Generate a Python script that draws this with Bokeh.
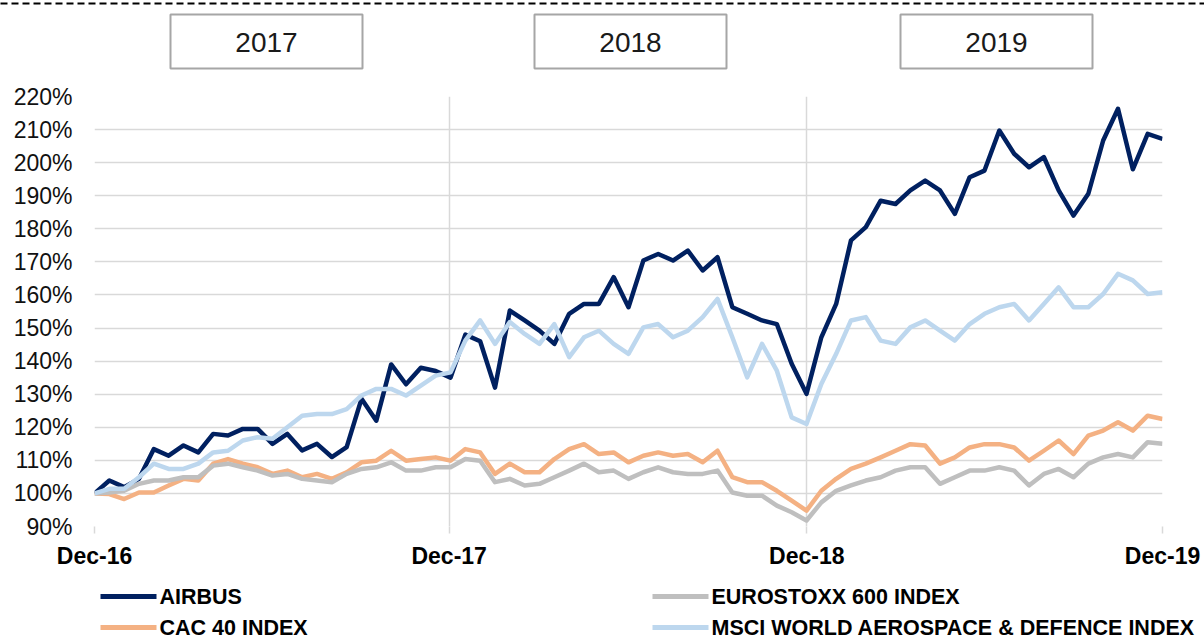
import pandas as pd
from bokeh.plotting import figure
from bokeh.models import (Range1d, FixedTicker, DatetimeTickFormatter, PrintfTickFormatter)
from bokeh.embed import file_html
from bokeh.resources import INLINE
from bokeh.core.properties import value

# ---------------- data ----------------
years = ["2017", "2018", "2019"]
tick_dates = ["2016-12-30", "2017-12-29", "2018-12-31", "2019-12-31"]
y_ticks = [90, 100, 110, 120, 130, 140, 150, 160, 170, 180, 190, 200, 210, 220]
series_names = ["AIRBUS", "CAC 40 INDEX", "EUROSTOXX 600 INDEX",
                "MSCI WORLD AEROSPACE & DEFENCE INDEX"]

airbus = [100, 103.9, 101.9, 104.4, 113.4, 111.4, 114.5, 112.4, 118, 117.5, 119.5, 119.5,
          115, 118, 113, 115, 111, 114, 128.6, 122, 139, 133, 138, 137, 135,
          148, 146, 132, 155.3, 152.3, 149.2, 145.2, 154.3, 157.3, 157.3, 165.4, 156.3,
          170.4, 172.4, 170.4, 173.4, 167.4, 171.4, 156.3, 154.3, 152.3, 151.2, 139.2, 130.1,
          147.2, 157.3, 176.5, 180.5, 188.5, 187.5, 191.6, 194.6, 191.6, 184.5, 195.6, 197.6,
          209.7, 202.7, 198.6, 201.7, 191.6, 184, 190.6, 206.7, 216.3, 198, 208.7, 207.2]

cac40 = [100, 99.8, 98.3, 100.3, 100.3, 102.4, 104.4, 103.9, 109, 110.4, 109, 107.9,
         105.9, 106.9, 104.9, 105.9, 104.4, 106.4, 109.4, 109.9, 112.9, 109.9, 110.4, 110.9, 109.9,
         113.4, 112.4, 105.9, 109, 106.4, 106.4, 110.4, 113.4, 114.9, 111.9, 112.4, 109.4,
         111.4, 112.4, 111.4, 111.9, 109.4, 112.9, 104.9, 103.4, 103.4, 100.8, 97.8, 94.8,
         100.8, 104.4, 107.4, 109, 110.9, 112.9, 114.9, 114.5, 109, 110.9, 113.9, 114.9,
         114.9, 113.9, 109.9, 112.9, 116, 111.9, 117.5, 119, 121.5, 119, 123.5, 122.5]

stoxx600 = [100, 100.3, 100.8, 102.9, 103.9, 103.9, 104.9, 104.9, 108.4, 109, 107.9, 106.9,
            105.4, 105.9, 104.4, 103.9, 103.4, 105.9, 107.4, 107.9, 109.4, 106.9, 106.9, 107.9, 107.9,
            110.4, 109.9, 103.4, 104.4, 102.4, 102.9, 104.9, 106.9, 109, 106.4, 106.9, 104.4,
            106.4, 107.9, 106.4, 105.9, 105.9, 106.9, 100.3, 99.3, 99.3, 96.3, 94.3, 91.8,
            97.3, 100.8, 102.4, 103.9, 104.9, 106.9, 107.9, 107.9, 102.9, 104.9, 106.9, 106.9,
            107.9, 106.9, 102.4, 105.9, 107.4, 104.9, 109, 110.9, 111.9, 110.9, 115.5, 115]

msci = [100, 101.4, 101.4, 104.9, 109, 107.4, 107.4, 109, 112.4, 112.9, 116, 117,
        116.5, 120, 123.5, 124, 124, 125.5, 129.6, 131.6, 131.6, 129.6, 132.6, 135.6, 136.6,
        146.2, 152.3, 145.2, 151.8, 148.2, 145.2, 151.2, 141.2, 147.2, 149.2, 145.2, 142.2,
        150.2, 151.2, 147.2, 149.2, 153.3, 158.8, 147.2, 135.1, 145.2, 137.1, 123, 121,
        133.1, 142.2, 152.3, 153.3, 146.2, 145.2, 150.2, 152.3, 149.2, 146.2, 151.2, 154.3,
        156.3, 157.3, 152.3, 157.3, 162.3, 156.3, 156.3, 160.3, 166.4, 164.4, 160.3, 160.8]

dates = pd.date_range(tick_dates[0], tick_dates[-1], periods=len(airbus))

# ---------------- styles / layout ----------------
W, H = 1204, 639
FONT = "Liberation Sans"
GRID = "#D9D9D9"
colors = {"AIRBUS": "#002060", "CAC 40 INDEX": "#F4B183",
          "EUROSTOXX 600 INDEX": "#BFBFBF",
          "MSCI WORLD AEROSPACE & DEFENCE INDEX": "#BDD7EE"}

# plot frame position in canvas pixels
FL, FR, FT, FB = 94, 1162, 96, 526
tick_ms = [pd.Timestamp(d).value / 1e6 for d in tick_dates]
T0, T1 = tick_ms[0], tick_ms[-1]
Y0, Y1 = y_ticks[0], y_ticks[-1]


def dx(px):
    """canvas pixel x -> data x (for decorations drawn outside the frame)"""
    return T0 + (px - FL) * (T1 - T0) / (FR - FL)


def dy(py):
    """canvas pixel y -> data y"""
    return Y1 - (py - FT) * (Y1 - Y0) / (FB - FT)


p = figure(width=W, height=H, x_axis_type="datetime",
           x_range=Range1d(T0, T1), y_range=Range1d(Y0, Y1),
           min_border_left=FL, min_border_right=W - FR,
           min_border_top=FT, min_border_bottom=H - FB,
           output_backend="svg", toolbar_location=None)
p.outline_line_color = None
p.background_fill_color = "white"
p.border_fill_color = "white"

xt = FixedTicker(ticks=tick_ms)
p.xaxis.ticker = xt
p.xgrid.ticker = xt
fmt = "%b-%y"
p.xaxis.formatter = DatetimeTickFormatter(microseconds=fmt, milliseconds=fmt, seconds=fmt,
                                          minsec=fmt, minutes=fmt, hourmin=fmt, hours=fmt,
                                          days=fmt, months=fmt, years=fmt)
p.xaxis.axis_line_color = None
p.xaxis.major_tick_line_color = GRID
p.xaxis.major_tick_line_width = 1.5
p.xaxis.major_tick_out = 7
p.xaxis.major_tick_in = 0
p.xaxis.minor_tick_line_color = None
p.xaxis.major_label_standoff = 9
p.xaxis.major_label_text_font = FONT
p.xaxis.major_label_text_font_style = "bold"
p.xaxis.major_label_text_font_size = "23px"
p.xaxis.major_label_text_color = "black"

yt = FixedTicker(ticks=y_ticks)
p.yaxis.ticker = yt
p.ygrid.ticker = yt
p.yaxis.formatter = PrintfTickFormatter(format="%d%%")
p.yaxis.axis_line_color = None
p.yaxis.major_tick_line_color = None
p.yaxis.major_tick_out = 0
p.yaxis.major_tick_in = 0
p.yaxis.minor_tick_line_color = None
p.yaxis.major_label_standoff = 22
p.yaxis.major_label_text_font = FONT
p.yaxis.major_label_text_font_size = "23px"
p.yaxis.major_label_text_color = "#111111"

p.xgrid.grid_line_color = GRID
p.xgrid.grid_line_width = 1.5
p.ygrid.grid_line_color = GRID
p.ygrid.grid_line_width = 1.5

data = {"AIRBUS": airbus, "CAC 40 INDEX": cac40, "EUROSTOXX 600 INDEX": stoxx600,
        "MSCI WORLD AEROSPACE & DEFENCE INDEX": msci}
for name in series_names:
    p.line(dates, data[name], line_color=colors[name], line_width=4.5, line_join="round")

# ---------------- top: dashed rule + year boxes (overlay level, outside frame) ----------------
p.segment(x0=[dx(0)], y0=[dy(3)], x1=[dx(W)], y1=[dy(3)], line_color="black",
          line_width=2, line_dash="7 4", level="overlay")
box_left = [170, 534, 900]
box_w = 192
p.quad(left=[dx(b) for b in box_left], right=[dx(b + box_w) for b in box_left],
       top=[dy(14)] * 3, bottom=[dy(68)] * 3, fill_color="white",
       line_color="#A6A6A6", line_width=2, level="overlay")
p.text(x=[dx(b + box_w / 2) for b in box_left], y=[dy(42)] * 3, text=years,
       text_align="center", text_baseline="middle", text_font=value(FONT),
       text_font_size="28px", text_color="#1A1A1A", level="overlay")

# ---------------- legend (overlay level, below the axis) ----------------
col_x = {"AIRBUS": 100, "CAC 40 INDEX": 100, "EUROSTOXX 600 INDEX": 652,
         "MSCI WORLD AEROSPACE & DEFENCE INDEX": 652}
row_y = {"AIRBUS": 596, "CAC 40 INDEX": 627, "EUROSTOXX 600 INDEX": 596,
         "MSCI WORLD AEROSPACE & DEFENCE INDEX": 627}
p.segment(x0=[dx(col_x[n]) for n in series_names], y0=[dy(row_y[n]) for n in series_names],
          x1=[dx(col_x[n] + 56) for n in series_names], y1=[dy(row_y[n]) for n in series_names],
          line_color=[colors[n] for n in series_names], line_width=5, level="overlay")
p.text(x=[dx(col_x[n] + 59) for n in series_names], y=[dy(row_y[n]) for n in series_names],
       text=series_names, text_align="left", text_baseline="middle",
       text_font=value(FONT), text_font_style="bold", text_font_size="21.5px",
       text_color="black", level="overlay")

open("out.html", "w").write(file_html(p, INLINE))
